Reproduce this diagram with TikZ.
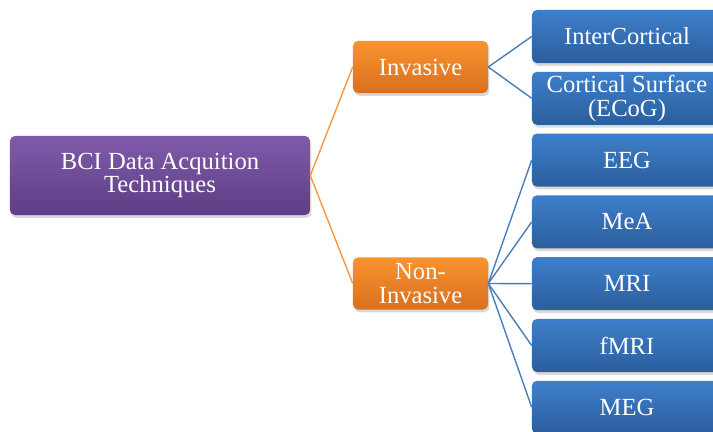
\documentclass[tikz,border=0pt]{standalone}
\usepackage{fontspec}
\setmainfont{Liberation Serif}
\usetikzlibrary{shadows}
\usepackage{xcolor}

\definecolor{purpleTop}{HTML}{7F5AAA}
\definecolor{purpleBot}{HTML}{5E3E84}
\definecolor{orangeTop}{HTML}{F8932F}
\definecolor{orangeBot}{HTML}{D8701E}
\definecolor{blueTop}{HTML}{3E7FCC}
\definecolor{blueBot}{HTML}{2B5E9C}
\definecolor{orangeLine}{HTML}{F79646}
\definecolor{blueLine}{HTML}{4A7EBB}

\tikzset{
  box/.style={rounded corners=3.5pt, inner sep=0pt, align=center, text=white,
    font=\fontsize{17.5}{17}\selectfont,
    drop shadow={opacity=0.3, shadow xshift=1pt, shadow yshift=-2pt}},
  rootbox/.style={box, top color=purpleTop, bottom color=purpleBot,
    minimum width=7.5cm, minimum height=1.975cm},
  groupbox/.style={box, top color=orangeTop, bottom color=orangeBot,
    minimum width=3.375cm, minimum height=1.3cm},
  leafbox/.style={box, top color=blueTop, bottom color=blueBot,
    minimum width=4.75cm, minimum height=1.325cm},
  orangelink/.style={draw=orangeLine, line width=1pt},
  bluelink/.style={draw=blueLine, line width=1pt}
}

\begin{document}
\begin{tikzpicture}[x=0.025cm, y=-0.025cm, line join=round]
  % picture frame in pixels of the reference (y grows downwards)
  \useasboundingbox (0,0) rectangle (713,432);
  \clip (0,0) rectangle (713,432);

  % Root
  \node[rootbox] (root) at (160,175.5) {BCI Data Acquition\\Techniques};

  % Two groups
  \node[groupbox] (inv) at (420.5,67) {Invasive};
  \node[groupbox] (noninv) at (420.5,283.5) {Non-\\Invasive};

  % Leaves (right edge runs off the page)
  \node[leafbox] (intercort) at (627,36.5) {InterCortical};
  \node[leafbox] (ecog) at (627,98.3) {Cortical Surface\\(ECoG)};
  \node[leafbox] (eeg) at (627,160.1) {EEG};
  \node[leafbox] (mea) at (627,221.9) {MeA};
  \node[leafbox] (mri) at (627,283.7) {MRI};
  \node[leafbox] (fmri) at (627,345.5) {fMRI};
  \node[leafbox] (meg) at (627,407.3) {MEG};

  % Root to groups
  \draw[orangelink] (root.east) -- (inv.west);
  \draw[orangelink] (root.east) -- (noninv.west);

  % Invasive branch
  \draw[bluelink] (inv.east) -- (intercort.west);
  \draw[bluelink] (inv.east) -- (ecog.west);

  % Non-invasive branch
  \draw[bluelink] (noninv.east) -- (eeg.west);
  \draw[bluelink] (noninv.east) -- (mea.west);
  \draw[bluelink] (noninv.east) -- (mri.west);
  \draw[bluelink] (noninv.east) -- (fmri.west);
  \draw[bluelink] (noninv.east) -- (meg.west);
\end{tikzpicture}
\end{document}
